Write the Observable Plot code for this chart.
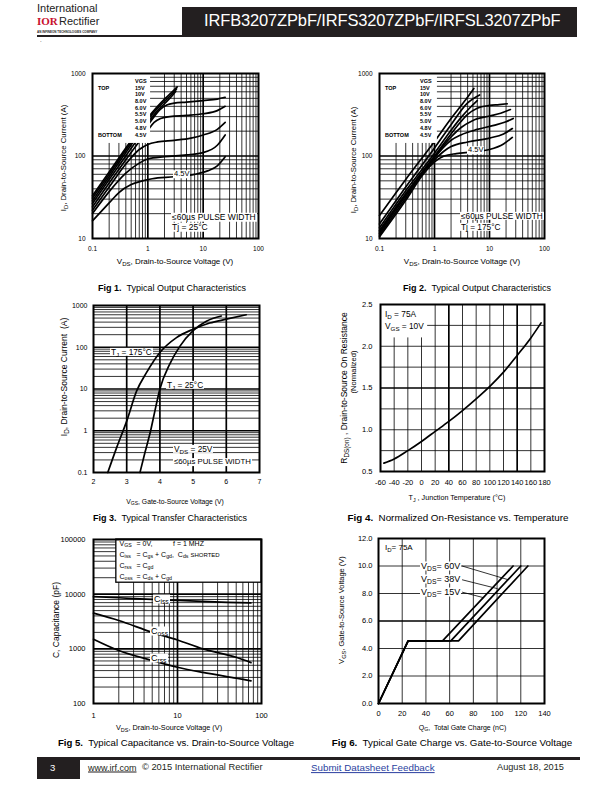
<!DOCTYPE html>
<html><head><meta charset="utf-8">
<script src="https://cdn.jsdelivr.net/npm/d3@7"></script>
<script src="https://cdn.jsdelivr.net/npm/@observablehq/plot@0.6"></script>
<style>
body{margin:0;background:#fff;}
#page{position:relative;width:612px;height:792px;overflow:hidden;font-family:"Liberation Sans",Arial,Helvetica,sans-serif;color:#000;background:#fff;}
.abs{position:absolute;white-space:nowrap;line-height:1;}
sub{font-size:75%;vertical-align:-0.35em;line-height:0;}
</style></head>
<body><div id="page"></div>
<script>
// ---------------- DATA ----------------
// Fig 1: Typical output characteristics, Tj = 25°C  [VDS (V), ID (A)]
const fig1Labels = ["15V","10V","8.0V","6.0V","5.5V","5.0V","4.8V","4.5V"];
const fig1_15V = [[0.1,33],[0.2,64],[0.4,125],[0.7,210],[1,290],[1.5,400],[2,490],[2.7,590],[3.4,690]];
const fig1_10V = [[0.1,31],[0.2,60],[0.4,118],[0.7,200],[1,275],[1.5,380],[2,460],[2.7,560],[3.3,650]];
const fig1_8V  = [[0.1,28.6],[0.2,56],[0.4,110],[0.7,188],[1,255],[1.5,355],[2,430],[2.7,530],[3.2,610]];
const fig1_6V  = [[0.1,26.6],[0.2,52],[0.4,100],[0.7,170],[1,235],[1.3,300],[1.7,370],[2.2,415],[3,437],[5,450],[10,470],[18,490],[25,515]];
const fig1_55V = [[0.1,24.2],[0.2,47],[0.4,90],[0.7,150],[1,205],[1.3,255],[1.7,285],[2.5,300],[5,310],[10,325],[18,355],[25,400]];
const fig1_5V  = [[0.1,22],[0.2,42],[0.4,80],[0.7,120],[1,138],[1.5,148],[3,155],[6,165],[10,180],[18,210],[25,255]];
const fig1_48V = [[0.1,20.1],[0.2,37],[0.4,62],[0.7,82],[1,92],[2,98],[5,103],[10,110],[18,135],[25,180]];
const fig1_45V = [[0.1,16.4],[0.2,27],[0.3,36],[0.5,45],[0.8,50],[1.2,53],[3,56],[7,60],[12,66],[18,76],[25,98]];
const fig1Series = [fig1_15V,fig1_10V,fig1_8V,fig1_6V,fig1_55V,fig1_5V,fig1_48V,fig1_45V];

// Fig 2: Typical output characteristics, Tj = 175°C
const fig2_15V = [[0.1,19],[0.3,52],[1,150],[2,285],[3.5,460],[5.2,660]];
const fig2_10V = [[0.1,15],[0.3,42],[1,125],[2,240],[4,440],[6.6,550]];
const fig2_8V  = [[0.1,13.5],[0.3,38],[1,108],[2,205],[3,290],[4.5,390],[6,470]];
const fig2_6V  = [[0.1,12.5],[0.3,35],[1,100],[2,185],[3,260],[4,320],[6,380],[10,410],[15,420],[21,430]];
const fig2_55V = [[0.1,12],[0.3,34],[1,98],[2,170],[3,220],[5,270],[10,305],[16,330],[24,366]];
const fig2_5V  = [[0.1,11.5],[0.3,33],[1,95],[1.5,130],[2,155],[3,180],[6,210],[12,235],[20,260],[27,285]];
const fig2_48V = [[0.1,11],[0.3,31],[0.7,70],[1,90],[1.5,115],[2,130],[4,148],[10,165],[18,185],[26,215]];
const fig2_45V = [[0.1,10.5],[0.3,29],[0.6,58],[1,85],[1.5,100],[2.5,107],[5,112],[10,120],[18,140],[26,168]];
const fig2Series = [fig2_15V,fig2_10V,fig2_8V,fig2_6V,fig2_55V,fig2_5V,fig2_48V,fig2_45V];

// Fig 3: transfer characteristics [VGS (V), ID (A)]
const fig3_175C = [[2.43,0.1],[2.7,0.4],[3.0,1.7],[3.3,9],[3.6,25],[4.0,75],[4.5,170],[5,270],[5.5,380],[6,470],[6.6,600]];
const fig3_25C  = [[3.4,0.1],[3.55,0.3],[3.72,1],[3.85,3],[4.0,10],[4.3,40],[4.6,105],[5.0,250],[5.4,420],[5.85,560]];

// Fig 4: normalized RDS(on) vs Tj [°C, ratio]
const fig4Curve = [[-55,0.6],[-40,0.65],[-20,0.75],[0,0.86],[20,0.98],[40,1.1],[60,1.23],[80,1.37],[100,1.52],[120,1.69],[140,1.89],[160,2.1],[175,2.28]];

// Fig 5: capacitance vs VDS [V, pF]
const fig5Ciss = [[1,9000],[2,8600],[5,8000],[10,7700],[20,7400],[40,7100],[75,6900]];
const fig5Coss = [[1,4500],[2,3300],[5,2000],[10,1450],[20,1000],[50,700],[75,560]];
const fig5Crss = [[1,1500],[2,930],[5,610],[10,460],[20,370],[50,290],[75,260]];

// Fig 6: gate charge [QG (nC), VGS (V)]
const fig6_15V = [[0,0],[25,4.55],[54,4.55],[113.5,10]];
const fig6_38V = [[0,0],[25,4.55],[61,4.55],[120,10]];
const fig6_60V = [[0,0],[25,4.55],[67.5,4.55],[126,10]];
const fig6Leaders = [{x1:70.5,y1:10,x2:109.5,y2:9},{x1:70.5,y1:9,x2:100.5,y2:8.35},{x1:70.5,y1:8.1,x2:88.5,y2:7.7}];

// tick labels
const ticksVds = [0.1,1,10,100], ticksId = [10,100,1000];
const ticksVgs3 = [2,3,4,5,6,7], ticksId3 = [0.1,1,10,100,1000];
const ticksT4 = [-60,-40,-20,0,20,40,60,80,100,120,140,160,180], ticksR4 = [0.5,1.0,1.5,2.0,2.5];
const ticksV5 = [1,10,100], ticksC5 = [100,1000,10000,100000];
const ticksQ6 = [0,20,40,60,80,100,120,140], ticksV6 = [0,2,4,6,8,10,12];

// ---------------- HELPERS ----------------
const FONT = '"Liberation Sans", Arial, Helvetica, sans-serif';
const page = document.getElementById("page");
const K = "#000";

function txt(html, x, y, o = {}) {
  const d = document.createElement("div");
  d.className = "abs";
  d.innerHTML = html;
  d.style.left = x + "px"; d.style.top = y + "px";
  d.style.fontSize = (o.size || 8) + "px";
  if (o.bold) d.style.fontWeight = "bold";
  d.style.color = o.color || K;
  if (o.bg) { d.style.background = o.bg; d.style.padding = "0 1px"; }
  if (o.family) d.style.fontFamily = o.family;
  if (o.ls) d.style.letterSpacing = o.ls + "px";
  if (o.underline) d.style.textDecoration = "underline";
  const tx = o.anchor === "middle" ? "-50%" : o.anchor === "end" ? "-100%" : "0";
  d.style.transform = o.rotate ? `translate(-50%,-50%) rotate(${o.rotate}deg)` : `translate(${tx},-50%)`;
  page.appendChild(d);
  return d;
}
function box(x, y, w, h, color) {
  const d = document.createElement("div");
  Object.assign(d.style, {position:"absolute", left:x+"px", top:y+"px", width:w+"px", height:h+"px", background:color});
  page.appendChild(d);
}
function decades(lo, hi) {
  const v = [];
  for (let e = Math.round(Math.log10(lo)); e < Math.round(Math.log10(hi)); e++)
    for (let k = 1; k < 10; k++) v.push(+(k * 10 ** e).toPrecision(6));
  v.push(hi);
  return v;
}
const XY = {x: d => d[0], y: d => d[1]};
function grid(xs, ys, majX, majY) {
  const m = [];
  m.push(Plot.ruleX(xs.filter(v => !majX.includes(v)), {stroke: K, strokeWidth: 0.8}));
  m.push(Plot.ruleY(ys.filter(v => !majY.includes(v)), {stroke: K, strokeWidth: 0.8}));
  m.push(Plot.ruleX(majX, {stroke: K, strokeWidth: 1.7}));
  m.push(Plot.ruleY(majY, {stroke: K, strokeWidth: 1.7}));
  return m;
}
function chart(F, {x, y, marks, fs, padX, padY}) {
  const ml = 45, mr = 10, mt = 8, mb = 25;
  const svg = Plot.plot({
    width: F.r - F.l + ml + mr, height: F.b - F.t + mt + mb,
    marginLeft: ml, marginRight: mr, marginTop: mt, marginBottom: mb,
    style: {fontFamily: FONT, fontSize: fs + "px", background: "transparent", color: K, overflow: "visible"},
    x: {...x, label: null, tickSize: 0, tickPadding: padX},
    y: {...y, label: null, tickSize: 0, tickPadding: padY},
    marks
  });
  Object.assign(svg.style, {position: "absolute", left: (F.l - ml) + "px", top: (F.t - mt) + "px", maxWidth: "none"});
  page.appendChild(svg);
}
const S = String;

// ---------------- HEADER ----------------
txt("International", 37, 8, {size: 11, color: "#222"});
txt("IOR", 37, 21, {size: 11, bold: true, color: "#c8102e", family: '"Liberation Serif", serif'});
txt("Rectifier", 59, 21, {size: 11, color: "#222"});
txt("AN INFINEON TECHNOLOGIES COMPANY", 37, 31.5, {size: 3, bold: true, color: "#222"});
box(182, 7, 395, 28, "#231f20");
box(37, 34.5, 540, 2, "#231f20");
txt("IRFB3207ZPbF/IRFS3207ZPbF/IRFSL3207ZPbF", 204, 20, {size: 16.5, color: "#fff", ls: -0.15});
txt(".", 40, 40, {size: 6});

// ---------------- FIG 1 ----------------
const F1 = {l: 92, t: 73, r: 258, b: 238};
chart(F1, {
  fs: 6.5, padX: 8, padY: 7,
  x: {type: "log", domain: [0.1, 100], ticks: ticksVds, tickFormat: S},
  y: {type: "log", domain: [10, 1000], ticks: ticksId, tickFormat: S},
  marks: [
    ...grid(decades(0.1, 100), decades(10, 1000), [1, 10], [100]),
    ...fig1Series.map(s => Plot.line(s, {...XY, stroke: K, strokeWidth: 1.7, curve: "monotone-x"})),
    Plot.rect([{x1: 0.1, x2: 1.12, y1: 142, y2: 1000}], {x1: "x1", x2: "x2", y1: "y1", y2: "y2", fill: "#fff"}),
    Plot.frame({stroke: K, strokeWidth: 2})
  ]
});
const legY = [16, 22, 29, 35.5, 42, 49, 56, 63];
function outputLegend(F, vx) {
  txt("VGS", F.l + vx, F.t + 9, {size: 5.5, bold: true});
  txt("TOP", F.l + 6, F.t + legY[0], {size: 5.5, bold: true});
  txt("BOTTOM", F.l + 6, F.t + legY[7], {size: 5.5, bold: true});
  fig1Labels.forEach((l, i) => txt(l, F.l + vx, F.t + legY[i], {size: 5.5, bold: true}));
}
outputLegend(F1, 43);
txt("4.5V", 173, 174, {size: 7.5, bg: "#fff"});
txt("≤60µs PULSE WIDTH", 171, 217, {size: 8.5, bg: "#fff"});
txt("Tj = 25°C", 171, 227, {size: 8.5, bg: "#fff"});
txt("I<sub>D</sub>, Drain-to-Source Current (A)", 64, 158, {size: 7.8, rotate: -90});
txt("V<sub>DS</sub>, Drain-to-Source Voltage (V)", 175, 262, {size: 8, anchor: "middle"});
txt("<b>Fig 1.</b>&nbsp; Typical Output Characteristics", 172, 288, {size: 9, anchor: "middle"});

// ---------------- FIG 2 ----------------
const F2 = {l: 379, t: 73, r: 544, b: 238};
chart(F2, {
  fs: 6.5, padX: 8, padY: 7,
  x: {type: "log", domain: [0.1, 100], ticks: ticksVds, tickFormat: S},
  y: {type: "log", domain: [10, 1000], ticks: ticksId, tickFormat: S},
  marks: [
    ...grid(decades(0.1, 100), decades(10, 1000), [1, 10], [100]),
    ...fig2Series.map(s => Plot.line(s, {...XY, stroke: K, strokeWidth: 1.7, curve: "monotone-x"})),
    Plot.rect([{x1: 0.1, x2: 1.13, y1: 142, y2: 1000}], {x1: "x1", x2: "x2", y1: "y1", y2: "y2", fill: "#fff"}),
    Plot.frame({stroke: K, strokeWidth: 2})
  ]
});
outputLegend(F2, 41);
txt("4.5V", 467, 150, {size: 7.5, bg: "#fff"});
txt("≤60µs PULSE WIDTH", 460, 216, {size: 8.3, bg: "#fff"});
txt("Tj = 175°C", 460, 227, {size: 8.3, bg: "#fff"});
txt("I<sub>D</sub>, Drain-to-Source Current (A)", 353.5, 160, {size: 7.8, rotate: -90});
txt("V<sub>DS</sub>, Drain-to-Source Voltage (V)", 462, 262, {size: 8, anchor: "middle"});
txt("<b>Fig 2.</b>&nbsp; Typical Output Characteristics", 477, 288, {size: 9, anchor: "middle"});

// ---------------- FIG 3 ----------------
const F3 = {l: 93, t: 305, r: 259, b: 472};
chart(F3, {
  fs: 7, padX: 6.5, padY: 6,
  x: {type: "linear", domain: [2, 7], ticks: ticksVgs3, tickFormat: S},
  y: {type: "log", domain: [0.1, 1000], ticks: ticksId3, tickFormat: S},
  marks: [
    ...grid([], decades(0.1, 1000), [3, 4, 5, 6], [1, 10, 100]),
    Plot.line(fig3_175C, {...XY, stroke: K, strokeWidth: 1.7, curve: "monotone-x"}),
    Plot.line(fig3_25C, {...XY, stroke: K, strokeWidth: 1.7, curve: "monotone-x"}),
    Plot.frame({stroke: K, strokeWidth: 2})
  ]
});
txt("T<sub>J</sub> = 175°C", 110, 352, {size: 8.3, bg: "#fff"});
txt("T<sub>J</sub> = 25°C", 166, 385, {size: 8.3, bg: "#fff"});
txt("V<sub>DS</sub> = 25V", 173, 449, {size: 8.3, bg: "#fff"});
txt("≤60µs PULSE WIDTH", 173, 462, {size: 7.8, bg: "#fff"});
txt("I<sub>D</sub>, Drain-to-Source Current&nbsp; (A)", 64, 377, {size: 8.5, rotate: -90});
txt("V<sub>GS</sub>, Gate-to-Source Voltage (V)", 175, 502, {size: 6.8, anchor: "middle"});
txt("<b>Fig 3.</b>&nbsp; Typical Transfer Characteristics", 170, 518, {size: 9, anchor: "middle"});

// ---------------- FIG 4 ----------------
const F4 = {l: 380, t: 304, r: 544, b: 471};
chart(F4, {
  fs: 7.5, padX: 8, padY: 8,
  x: {type: "linear", domain: [-60, 180], ticks: ticksT4, tickFormat: S},
  y: {type: "linear", domain: [0.5, 2.5], ticks: ticksR4, tickFormat: d => d.toFixed(1)},
  marks: [
    ...grid([-40, -20, 0, 20, 60, 80, 100, 120, 160], [0.75, 1.0, 1.25, 1.75, 2.0, 2.25], [40, 140], [1.5]),
    Plot.rect([{x1: -60, x2: 9, y1: 2.1, y2: 2.5}], {x1: "x1", x2: "x2", y1: "y1", y2: "y2", fill: "#fff"}),
    Plot.line(fig4Curve, {...XY, stroke: K, strokeWidth: 1.7, curve: "monotone-x"}),
    Plot.frame({stroke: K, strokeWidth: 2})
  ]
});
txt("I<sub>D</sub> = 75A", 385, 314, {size: 8.3});
txt("V<sub>GS</sub> = 10V", 385, 326, {size: 8.3});
txt("R<sub>DS(on)</sub> , Drain-to-Source On Resistance", 344, 388, {size: 8.5, rotate: -90});
txt("(Normalized)", 353.5, 372, {size: 7.5, rotate: -90});
txt("T<sub>J</sub> , Junction Temperature (°C)", 457, 498, {size: 7.2, anchor: "middle"});
txt("<b>Fig 4.</b>&nbsp; Normalized On-Resistance vs. Temperature", 458, 518, {size: 9.8, anchor: "middle"});

// ---------------- FIG 5 ----------------
const F5 = {l: 93, t: 539, r: 261, b: 703};
chart(F5, {
  fs: 7.5, padX: 9, padY: 8,
  x: {type: "log", domain: [1, 100], ticks: ticksV5, tickFormat: S},
  y: {type: "log", domain: [100, 100000], ticks: ticksC5, tickFormat: S},
  marks: [
    ...grid(decades(1, 100), decades(100, 100000), [10], [1000, 10000]),
    Plot.line(fig5Ciss, {...XY, stroke: K, strokeWidth: 1.7, curve: "monotone-x"}),
    Plot.line(fig5Coss, {...XY, stroke: K, strokeWidth: 1.7, curve: "monotone-x"}),
    Plot.line(fig5Crss, {...XY, stroke: K, strokeWidth: 1.7, curve: "monotone-x"}),
    Plot.rect([{x1: 1.87, x2: 100, y1: 16200, y2: 100000}], {x1: "x1", x2: "x2", y1: "y1", y2: "y2", fill: "#fff", stroke: K, strokeWidth: 1.3}),
    Plot.frame({stroke: K, strokeWidth: 2})
  ]
});
const lx1 = 119.5, lx2 = 136.5;
txt("V<sub>GS</sub>", lx1, 542.5, {size: 7});
txt("= 0V,", lx2, 542.5, {size: 7});
txt("f = 1 MHZ", 173, 542.5, {size: 7});
txt("C<sub>iss</sub>", lx1, 553.5, {size: 7});
txt("= C<sub>gs</sub> + C<sub>gd</sub>,&nbsp; C<sub>ds</sub> <span style='font-size:6px'>SHORTED</span>", lx2, 553.5, {size: 7});
txt("C<sub>rss</sub>", lx1, 564.5, {size: 7});
txt("= C<sub>gd</sub>", lx2, 564.5, {size: 7});
txt("C<sub>oss</sub>", lx1, 575.5, {size: 7});
txt("= C<sub>ds</sub> + C<sub>gd</sub>", lx2, 575.5, {size: 7});
txt("C<sub>iss</sub>", 153, 599, {size: 9, bg: "#fff"});
txt("C<sub>oss</sub>", 150, 631, {size: 9, bg: "#fff"});
txt("C<sub>rss</sub>", 150, 658, {size: 9, bg: "#fff"});
txt("C, Capacitance (pF)", 55.5, 620, {size: 8.5, rotate: -90});
txt("V<sub>DS</sub>, Drain-to-Source Voltage (V)", 169, 728, {size: 7.3, anchor: "middle"});
txt("<b>Fig 5.</b>&nbsp; Typical Capacitance vs. Drain-to-Source Voltage", 176, 743, {size: 9.6, anchor: "middle"});

// ---------------- FIG 6 ----------------
const F6 = {l: 378, t: 538, r: 544, b: 703};
chart(F6, {
  fs: 7.5, padX: 7.3, padY: 6,
  x: {type: "linear", domain: [0, 140], ticks: ticksQ6, tickFormat: S},
  y: {type: "linear", domain: [0, 12], ticks: ticksV6, tickFormat: d => d.toFixed(1)},
  marks: [
    ...grid([20, 40, 60, 80, 100, 120], [2, 4, 8, 10], [], [6]),
    Plot.line(fig6_15V, {...XY, stroke: K, strokeWidth: 1.7}),
    Plot.line(fig6_38V, {...XY, stroke: K, strokeWidth: 1.7}),
    Plot.line(fig6_60V, {...XY, stroke: K, strokeWidth: 1.7}),
    Plot.link(fig6Leaders, {x1: "x1", y1: "y1", x2: "x2", y2: "y2", stroke: K, strokeWidth: 0.8}),
    Plot.frame({stroke: K, strokeWidth: 2})
  ]
});
txt("I<sub>D</sub>= 75A", 385, 548, {size: 8});
txt("V<sub>DS</sub>= 60V", 420, 566, {size: 9, bg: "#fff"});
txt("V<sub>DS</sub>= 38V", 420, 579, {size: 9, bg: "#fff"});
txt("V<sub>DS</sub>= 15V", 420, 592, {size: 9, bg: "#fff"});
txt("V<sub>GS</sub>, Gate-to-Source Voltage (V)", 341.5, 610, {size: 7.5, rotate: -90});
txt("Q<sub>G</sub>,&nbsp; Total Gate Charge (nC)", 462.5, 727, {size: 7, anchor: "middle"});
txt("<b>Fig 6.</b>&nbsp; Typical Gate Charge vs. Gate-to-Source Voltage", 452, 743, {size: 9.8, anchor: "middle"});

// ---------------- FOOTER ----------------
box(37, 757, 543, 3, "#231f20");
box(37, 757, 43, 22, "#231f20");
txt("3", 50, 768, {size: 9.5, color: "#fff"});
txt("www.irf.com", 88, 768, {size: 9, underline: true, color: "#231f20"});
txt("© 2015 International Rectifier", 142, 768, {size: 9.3, color: "#231f20"});
txt("Submit Datasheet Feedback", 311, 768, {size: 9.8, underline: true, color: "#2b3fa0"});
txt("August 18, 2015", 497, 768, {size: 9.2, color: "#231f20"});
</script>
</body></html>
